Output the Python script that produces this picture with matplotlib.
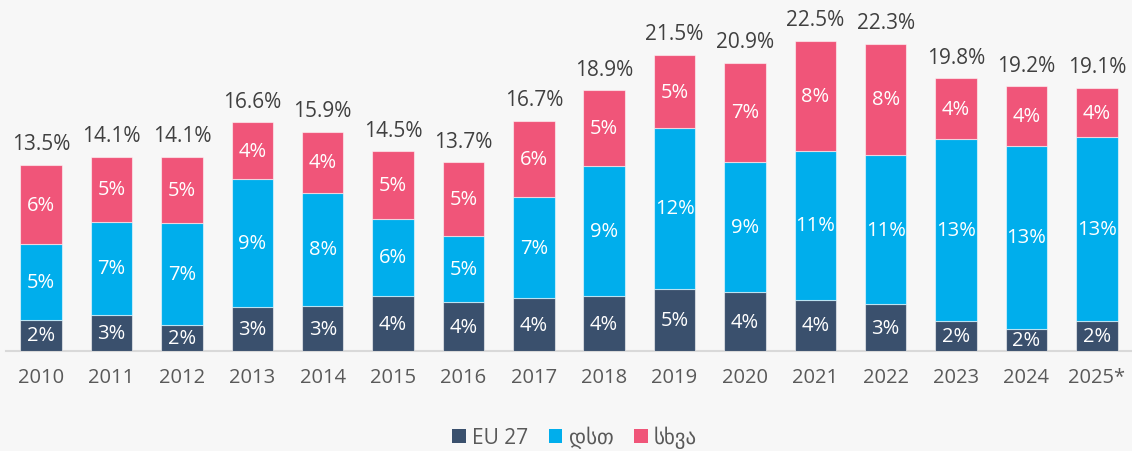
import matplotlib
matplotlib.use("Agg")
import matplotlib.pyplot as plt
import numpy as np
from matplotlib.patches import Patch

plt.rcParams['font.family'] = ['Open Sans', 'DejaVu Sans']

years = ['2010', '2011', '2012', '2013', '2014', '2015', '2016', '2017',
         '2018', '2019', '2020', '2021', '2022', '2023', '2024', '2025*']
eu27 = [2.3, 2.6, 1.9, 3.2, 3.3, 4.0, 3.55, 3.85, 4.0, 4.55, 4.3, 3.75, 3.4, 2.2, 1.6, 2.2]
cis = [5.45, 6.8, 7.4, 9.3, 8.2, 5.6, 4.8, 7.3, 9.45, 11.6, 9.45, 10.75, 10.8, 13.15, 13.3, 13.3]
other = [5.75, 4.7, 4.8, 4.1, 4.4, 4.9, 5.35, 5.55, 5.45, 5.35, 7.15, 8.0, 8.1, 4.45, 4.3, 3.6]
series_names = ['EU 27', 'დსთ', 'სხვა']

BG = '#F7F7F7'
colors = ['#3A506D', '#00AEEC', '#F05579']

W, H = 1132, 452
fig = plt.figure(figsize=(W / 100, H / 100), dpi=100, facecolor=BG)
ax = fig.add_axes([6 / W, (H - 352.3) / H, (W - 6) / W, 345 / H])
ax.set_facecolor(BG)

x = np.arange(len(years))
bw = 0.59
bottom = np.zeros(len(years))
for vals, col in zip([eu27, cis, other], colors):
    vals = np.array(vals)
    ax.bar(x, vals, bw, bottom=bottom, color=col,
           edgecolor=(1, 1, 1, 0.55), linewidth=0.8, zorder=2)
    for xi, v, b in zip(x, vals, bottom):
        ax.text(xi, b + v / 2, f"{round(v)}%", ha='center', va='center',
                color='white', fontsize=14.5, zorder=3)
    bottom = bottom + vals

for xi, tot in zip(x, bottom):
    ax.annotate(f"{tot:.1f}%", (xi, tot), xytext=(0, 21),
                textcoords='offset pixels', ha='center', va='center',
                color='#404040', fontsize=15)

ax.set_xlim(-0.5, len(years) - 0.5)
ax.set_ylim(0, 25)
ax.set_xticks(x)
ax.set_xticklabels(years, fontsize=14.5, color='#595959')
ax.tick_params(axis='x', length=0, pad=11)
ax.set_yticks([])
for s in ['top', 'right', 'left']:
    ax.spines[s].set_visible(False)
ax.spines['bottom'].set_color('#D9D9D9')
ax.spines['bottom'].set_linewidth(1.5)
ax.spines['bottom'].set_zorder(1)

handles = [Patch(facecolor=c, edgecolor='none') for c in colors]
fig.legend(handles, series_names, loc='center',
           bbox_to_anchor=(574.5 / W, 1 - 437.7 / H), ncol=3,
           frameon=False, fontsize=15, handlelength=0.65,
           handleheight=0.65, handletextpad=0.3, columnspacing=1.0,
           labelcolor='#595959')

fig.savefig('out.png', dpi=100, facecolor=BG)
